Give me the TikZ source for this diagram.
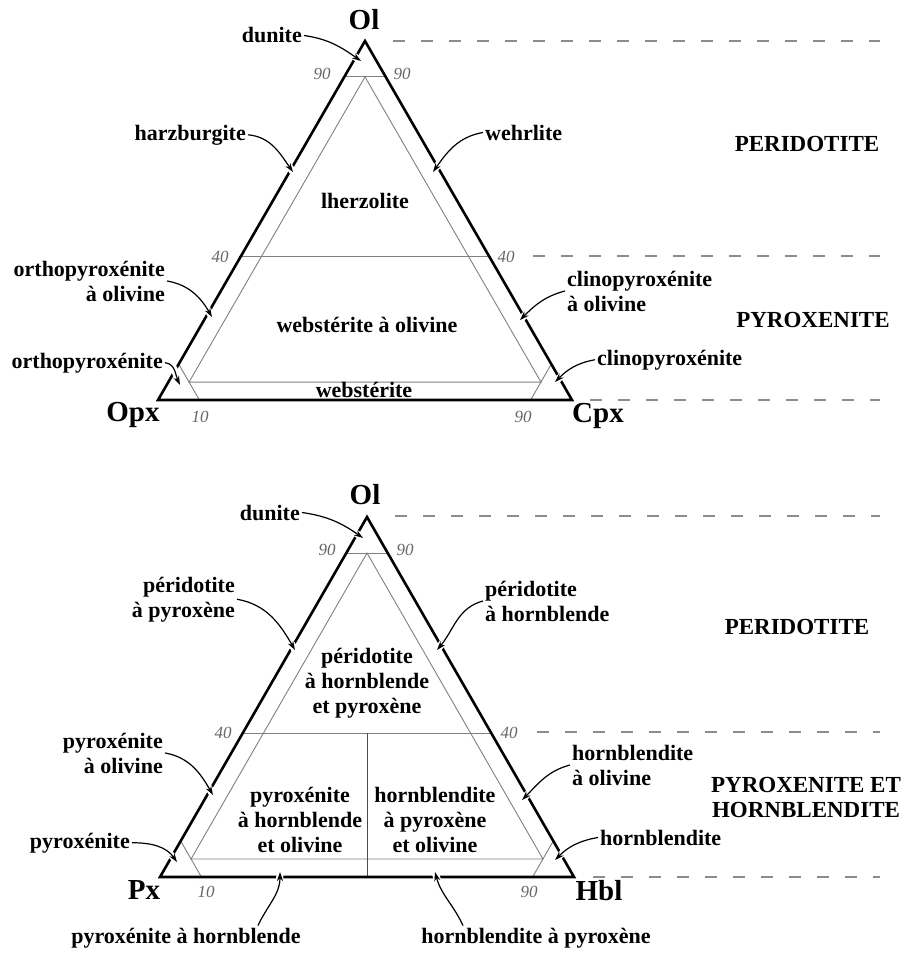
\documentclass[tikz,border=0pt]{standalone}
\usepackage{fontspec}
\setmainfont{Liberation Serif}
\usetikzlibrary{arrows.meta}
\begin{document}
\begin{tikzpicture}[x=1pt,y=1pt,
  lbl/.style={font=\bfseries\fontsize{22}{25}\selectfont, inner sep=2pt},
  capl/.style={font=\bfseries\fontsize{23}{25}\selectfont, inner sep=0pt, align=center},
  vtx/.style={font=\bfseries\fontsize{29}{30}\selectfont, inner sep=0pt},
  num/.style={font=\itshape\fontsize{17}{18}\selectfont, text=black!60, inner sep=0pt, anchor=base},
  outerline/.style={line width=2.6pt, line join=miter},
  thinline/.style={line width=0.9pt, draw=black!50},
  arr/.style={line width=1.2pt, -{Stealth[length=9pt,width=6pt]}, preaction={draw=white, line width=7pt, -}},
  sepline/.style={dash pattern=on 12pt off 16pt, line width=1.1pt, draw=black!45}]
\fill[white] (0,0) rectangle (905,-966);
\useasboundingbox (0,0) rectangle (905,-966);

% ---------- top triangle ----------
\coordinate (A1) at (365,-41);
\coordinate (L1) at (158,-400);
\coordinate (R1) at (572,-400);
\draw[thinline] (barycentric cs:A1=0.9,L1=0.1) -- (barycentric cs:A1=0.9,R1=0.1);
\draw[thinline] (barycentric cs:A1=0.4,L1=0.6) -- (barycentric cs:A1=0.4,R1=0.6);
\draw[thinline] (barycentric cs:A1=0.1,L1=0.9) -- (barycentric cs:L1=0.9,R1=0.1);
\draw[thinline] (barycentric cs:A1=0.1,R1=0.9) -- (barycentric cs:L1=0.1,R1=0.9);
\draw[thinline] (barycentric cs:A1=0.05,L1=0.9,R1=0.05) -- (barycentric cs:A1=0.9,L1=0.05,R1=0.05)
  -- (barycentric cs:A1=0.05,L1=0.05,R1=0.9) -- cycle;
\draw[outerline] (A1) -- (L1) -- (R1) -- cycle;

% ---------- bottom triangle ----------
\coordinate (A2) at (367,-517);
\coordinate (L2) at (160,-877);
\coordinate (R2) at (574,-877);
\draw[thinline] (barycentric cs:A2=0.9,L2=0.1) -- (barycentric cs:A2=0.9,R2=0.1);
\draw[thinline] (barycentric cs:A2=0.4,L2=0.6) -- (barycentric cs:A2=0.4,R2=0.6);
\draw[thinline] (barycentric cs:A2=0.1,L2=0.9) -- (barycentric cs:L2=0.9,R2=0.1);
\draw[thinline] (barycentric cs:A2=0.1,R2=0.9) -- (barycentric cs:L2=0.1,R2=0.9);
\draw[thinline] (barycentric cs:A2=0.05,L2=0.9,R2=0.05) -- (barycentric cs:A2=0.9,L2=0.05,R2=0.05)
  -- (barycentric cs:A2=0.05,L2=0.05,R2=0.9) -- cycle;
\draw[line width=0.9pt, draw=black!70] (barycentric cs:A2=0.4,L2=0.3,R2=0.3) -- (barycentric cs:L2=0.5,R2=0.5);
\draw[outerline] (A2) -- (L2) -- (R2) -- cycle;

% ---------- dashed separators ----------
\draw[sepline] (393,-41) -- (880,-41);
\draw[sepline] (533,-256) -- (880,-256);
\draw[sepline] (590,-400) -- (880,-400);
\draw[sepline] (395,-516) -- (880,-516);
\draw[sepline] (537,-732) -- (880,-732);
\draw[sepline] (593,-877) -- (880,-877);

% ---------- top labels ----------
\node[vtx, anchor=base] (ol1) at (364,-30) {Ol};
\node[vtx, anchor=base] (opx) at (133,-421) {Opx};
\node[vtx, anchor=base] (cpx) at (598,-422) {Cpx};
\node[lbl, anchor=base east] (dun1) at (304,-43) {dunite};
\node[lbl, anchor=base east] (harz) at (248,-140) {harzburgite};
\node[lbl, anchor=base west] (wehr) at (483,-140) {wehrlite};
\node[lbl, anchor=base] (lherz) at (365,-208) {lherzolite};
\node[lbl, anchor=base east, align=right] (opxol) at (167,-301) {orthopyroxénite\\à olivine};
\node[lbl, anchor=base east] (opxs) at (165,-368) {orthopyroxénite};
\node[lbl, anchor=base] (webol) at (367,-332) {webstérite à olivine};
\node[lbl, anchor=base] (web) at (364,-397) {webstérite};
\node[lbl, anchor=base west, align=left] (cpxol) at (565,-311) {clinopyroxénite\\à olivine};
\node[lbl, anchor=base west] (cpxs) at (595,-365) {clinopyroxénite};
\node[capl, anchor=base] (per1) at (807,-151) {PERIDOTITE};
\node[capl, anchor=base] (pyr1) at (813,-327) {PYROXENITE};
\node[num] (n1a) at (322,-80) {90};
\node[num] (n1b) at (402,-80) {90};
\node[num] (n1c) at (220,-262) {40};
\node[num] (n1d) at (506,-262) {40};
\node[num] (n1e) at (200,-422) {10};
\node[num] (n1f) at (523,-422) {90};

% ---------- bottom labels ----------
\node[vtx, anchor=base] (ol2) at (365,-504) {Ol};
\node[vtx, anchor=base] (px) at (144,-899) {Px};
\node[vtx, anchor=base] (hbl) at (599,-900) {Hbl};
\node[lbl, anchor=base east] (dun2) at (302,-520) {dunite};
\node[lbl, anchor=base east, align=right] (perpx) at (237,-617) {péridotite\\à pyroxène};
\node[lbl, anchor=base west, align=left] (perhb) at (483,-621) {péridotite\\à hornblende};
\node[lbl, anchor=base, align=center] (perhp) at (367,-713) {péridotite\\à hornblende\\et pyroxène};
\node[lbl, anchor=base east, align=right] (pxol) at (165,-773) {pyroxénite\\à olivine};
\node[lbl, anchor=base east] (pxs) at (132,-848) {pyroxénite};
\node[lbl, anchor=base, align=center] (pxhol) at (300,-852) {pyroxénite\\à hornblende\\et olivine};
\node[lbl, anchor=base, align=center] (hbpxol) at (435,-852) {hornblendite\\à pyroxène\\et olivine};
\node[lbl, anchor=base west, align=left] (hbol) at (570,-785) {hornblendite\\à olivine};
\node[lbl, anchor=base west] (hbs) at (598,-845) {hornblendite};
\node[lbl, anchor=base] (pxhb) at (186,-943) {pyroxénite à hornblende};
\node[lbl, anchor=base] (hbpx) at (536,-943) {hornblendite à pyroxène};
\node[capl, anchor=base] (per2) at (797,-634) {PERIDOTITE};
\node[capl, anchor=base] (pyhb) at (806,-817) {PYROXENITE ET\\HORNBLENDITE};
\node[num] (n2a) at (327,-555) {90};
\node[num] (n2b) at (405,-555) {90};
\node[num] (n2c) at (223,-738) {40};
\node[num] (n2d) at (509,-738) {40};
\node[num] (n2e) at (206,-897) {10};
\node[num] (n2f) at (529,-897) {90};

% ---------- arrow tips ----------
\coordinate (t1) at (361,-61);
\coordinate (t2) at (293,-172);
\coordinate (t3) at (433,-172);
\coordinate (t4) at (212,-317);
\coordinate (t5) at (180,-385);
\coordinate (t6) at (520,-320);
\coordinate (t7) at (555,-382);
\coordinate (b1) at (363,-538);
\coordinate (b2) at (295,-650);
\coordinate (b3) at (437,-650);
\coordinate (b4) at (213,-795);
\coordinate (b5) at (177,-862);
\coordinate (b6) at (522,-800);
\coordinate (b7) at (555,-860);
\coordinate (b8) at (280,-872);
\coordinate (b9) at (435,-872);

% ---------- arrows ----------
\draw[arr] (dun1.east) to[out=-8,in=145] (t1);
\draw[arr] (harz.east) to[out=-5,in=125] (t2);
\draw[arr] (wehr.west) to[out=190,in=55] (t3);
\draw[arr] (opxol.east) to[out=-10,in=120] (t4);
\draw[arr] (opxs.east) to[out=-5,in=115] (t5);
\draw[arr] (cpxol.west) to[out=195,in=45] (t6);
\draw[arr] (cpxs.west) to[out=190,in=45] (t7);
\draw[arr] (dun2.east) to[out=-8,in=145] (b1);
\draw[arr] (perpx.east) to[out=-10,in=120] (b2);
\draw[arr] (perhb.west) to[out=195,in=50] (b3);
\draw[arr] (pxol.east) to[out=-10,in=120] (b4);
\draw[arr] (pxs.east) to[out=0,in=125] (b5);
\draw[arr] (hbol.west) to[out=195,in=45] (b6);
\draw[arr] (hbs.west) to[out=190,in=45] (b7);
\draw[arr] ([xshift=72pt]pxhb.north) to[out=65,in=-90] (b8);
\draw[arr] ([xshift=-73pt]hbpx.north) to[out=115,in=-75] (b9);
\end{tikzpicture}
\end{document}
